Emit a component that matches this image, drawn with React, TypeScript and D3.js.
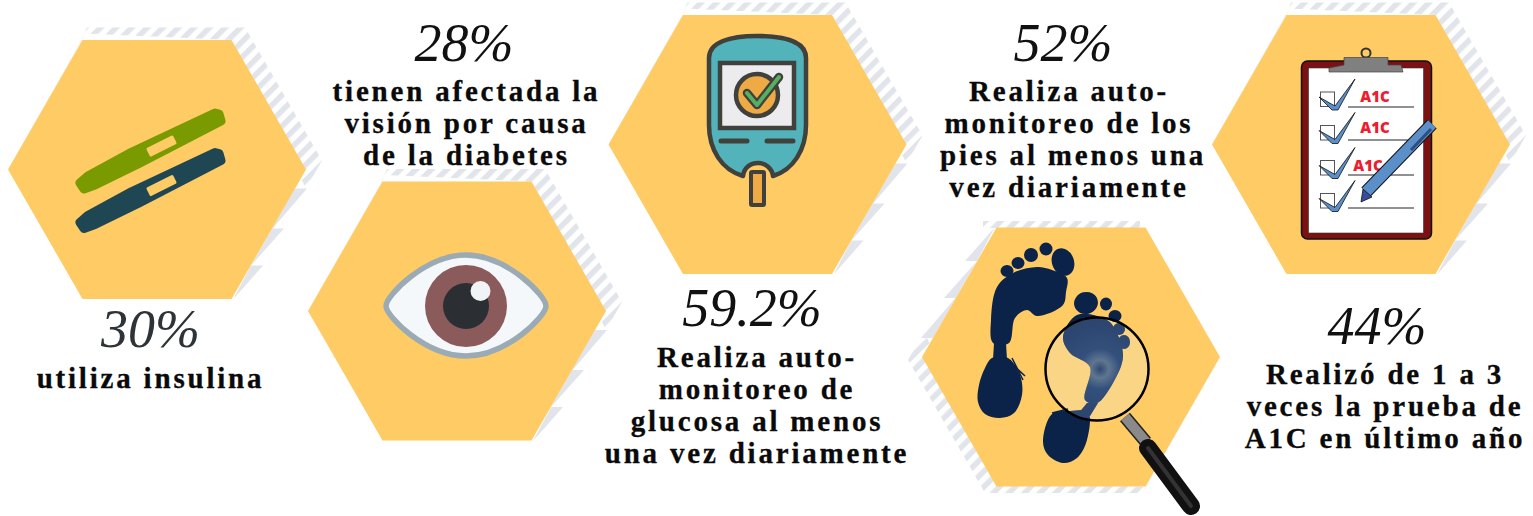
import React from "react";
import * as d3 from "d3";

const percents = ["30%", "28%", "59.2%", "52%", "44%"];
const percentColors = ["#2e3338", "#111", "#111", "#111", "#111"];
const percentX = [150.5, 464, 752, 1063, 1377];
const percentY = [347, 61, 326, 61, 344];
const captions = [
  ["utiliza insulina"],
  ["tienen afectada la", "visión por causa", "de la diabetes"],
  ["Realiza auto-", "monitoreo de", "glucosa al menos", "una vez diariamente"],
  ["Realiza auto-", "monitoreo de los", "pies al menos una", "vez diariamente"],
  ["Realizó de 1 a 3", "veces la prueba de", "A1C en último año"],
];
const captionX = [150.5, 466.5, 757, 1069, 1385];
const captionY = [388, 101, 367, 101, 384];
const captionNudge = [[0], [0, 0, 0], [0, 0, 0, 0], [0, 0, 4, 0], [0, 0, 0]];
const hexCx = [157, 457, 757.5, 1071, 1361];
const hexCy = [169.5, 311, 144.5, 357, 144.5];
const shadowRot = [0, 0, 0, 180, 0];

const R = 149;
const HALF = 129.5;
const HEX = "#fecb65";
const STRIPE = "#e1e4ea";
const INK = "#40403c";
const NAVY = "#0c2349";

const hexPoints: [number, number][] = [[-R, 0], [-R / 2, -HALF], [R / 2, -HALF], [R, 0], [R / 2, HALF], [-R / 2, HALF]];
const shadowDense: [number, number][] = [[-73, -136], [-70, -142], [88, -142], [165, -9], [149, 19], [75, -129.5]];
const sliver: [number, number][] = [[-75, -130], [-70, -138], [-146, -5], [-149, 0]];
const wedges: [number, number][][] = [
  [[138, 19], [150, 19], [113, 62]],
  [[115, 59], [127, 59], [94, 96]],
  [[94, 96], [106, 96], [76, 130]],
];
const line = d3.line<[number, number]>().curve(d3.curveLinearClosed);
const smooth = d3.line<[number, number]>().curve(d3.curveCatmullRomClosed.alpha(0.5));

const penShape: [number, number][] = [[215, 113], [219, 114], [221, 121], [138, 164], [95, 185], [84, 189], [80, 183], [88, 176], [132, 152]];
const penWindow: [number, number][] = [[148, 149], [172, 137], [175, 143], [151, 155]];
const penOffsets = [0, 39.5];
const penColors = ["#7a9a01", "#1f4753"];

const toes1: [number, number, number, number, number][] = [[1063, 262, 11, 14, -20], [1046, 249, 6.5, 6.5, 0], [1031, 255, 7, 7, 0], [1018, 263, 6.5, 6, 0], [1007, 271, 6.5, 6, 0]];
const ball1: [number, number][] = [[1037, 267], [1052, 270], [1067, 278], [1066, 292], [1063, 305], [1037, 316], [1027, 310], [1015, 318], [1009, 343], [993, 343], [991, 320], [997, 287], [1013, 273]];
const heel1: [number, number][] = [[992, 358], [1008, 358], [1020, 375], [1022, 395], [1014, 413], [1000, 418], [985, 414], [978, 402], [979, 385], [985, 368]];
const toes2: [number, number, number, number, number][] = [[1086, 303, 12, 11, -15], [1106, 304, 6, 6.5, 0], [1115, 316, 6.5, 6, 0]];
const toes2Lens: [number, number, number, number, number][] = [[1119, 329, 6, 6, 0], [1124, 342, 6, 7, 0]];
const ball2: [number, number][] = [[1063, 337], [1070, 353], [1090, 367], [1085, 400], [1097, 403], [1113, 383], [1123, 357], [1117, 333], [1107, 320], [1077, 315]];
const heel2: [number, number][] = [[1052, 414], [1070, 411], [1088, 412], [1087, 440], [1077, 458], [1063, 463], [1048, 455], [1043, 442]];

const rowY = [92, 125.5, 160.5, 193.5];
const lineY = [107, 140, 175, 208];
const a1cX = [1375, 1375, 1368];
const a1cY = [102, 133, 171];
const tick: [number, number][] = [[-2, 5], [14, 14], [34, -13], [17, 18], [11, 18]];

const Feet = ({ fill }: { fill: string }) => (
  <g fill={fill}>
    {[...toes1, ...toes2, ...toes2Lens].map(([x, y, a, b, r], i) => (
      <ellipse key={i} cx={x} cy={y} rx={a} ry={b} transform={`rotate(${r} ${x} ${y})`} />
    ))}
    {[ball1, heel1, ball2, heel2].map((p, i) => <path key={i} d={smooth(p) ?? ""} />)}
    <path d="M994 343 L1006 343 L1007 360 L993 360Z M1087 403 L1098 403 L1090 416 L1078 414Z" />
    <path d="M1010 362 L1025 376 M1012 358 L1023 380 M1052 413 L1068 409" stroke={fill} strokeWidth={1.5} />
  </g>
);

export default function App() {
  return (
    <svg width={1533} height={516} style={{ position: "absolute", left: 0, top: 0 }}>
      <defs>
        <pattern id="st" width={11} height={11} patternUnits="userSpaceOnUse" patternTransform="rotate(45)">
          <rect width={5.6} height={11} fill={STRIPE} />
        </pattern>
        <radialGradient id="lensFoot" gradientUnits="userSpaceOnUse" cx={1100} cy={369} r={45}>
          <stop offset="0" stopColor="#2e4a72" />
          <stop offset="0.2" stopColor="#5f7690" />
          <stop offset="0.45" stopColor="#33507c" />
          <stop offset="1" stopColor="#2c4670" />
        </radialGradient>
        <clipPath id="lensClip"><circle cx={1097} cy={369} r={51} /></clipPath>
      </defs>

      {hexCx.map((cx, i) => (
        <g key={i} transform={`translate(${cx},${hexCy[i]}) rotate(${shadowRot[i]})`}>
          {shadowRot[i] === 180 ? (
            <>
              <path d={line(shadowDense.map(([x, y]) => [x - 2, y + 6] as [number, number])) ?? ""} fill="url(#st)" />
              <rect x={-69} y={129} width={157} height={7} fill="url(#st)" />
            </>
          ) : (
            <path d={line(shadowDense) ?? ""} fill="url(#st)" />
          )}
          <path d={line(sliver) ?? ""} fill={STRIPE} />
          {wedges.map((w, j) => <path key={j} d={line(w) ?? ""} fill={STRIPE} />)}
        </g>
      ))}
      {hexCx.map((cx, i) => (
        <path key={i} transform={`translate(${cx},${hexCy[i]})`} d={line(hexPoints) ?? ""} fill={HEX} />
      ))}

      {/* insulin pens */}
      {penOffsets.map((dy, i) => (
        <g key={i} transform={`translate(0,${dy})`}>
          <path d={line(penShape) ?? ""} fill={penColors[i]} stroke={penColors[i]} strokeWidth={9} strokeLinejoin="round" />
          <path d={line(penWindow) ?? ""} fill={HEX} stroke={HEX} strokeWidth={3} strokeLinejoin="round" />
        </g>
      ))}

      {/* eye */}
      <path d="M386 306 C386 296 425 255 466 255 C507 255 546 296 546 306 C546 316 507 356 466 356 C425 356 386 316 386 306Z"
        fill="#f4f8fb" stroke="#9aabb5" strokeWidth={5.5} strokeLinejoin="round" />
      <ellipse cx={466} cy={306} rx={41} ry={41} fill="#8b5a5a" />
      <ellipse cx={466} cy={306} rx={23} ry={23} fill="#2b2f33" />
      <circle cx={480.5} cy={291} r={10} fill="#f0f4f6" />

      {/* glucose meter */}
      <path d="M743 176 C722 170 709 150 709 125 L709 58 C709 42 730 36 757 36 C785 36 806 42 806 58 L806 125 C806 150 793 170 773 176 C772 168 765 163 758 163 C750 163 744 168 743 176Z"
        fill="#52b3bb" stroke={INK} strokeWidth={4.5} strokeLinejoin="round" />
      <rect x={720} y={63} width={74} height={65} fill="#ececef" stroke={INK} strokeWidth={4.5} />
      <circle cx={757} cy={95} r={21} fill="#eeaa44" stroke={INK} strokeWidth={4.5} />
      <path d="M747 93 L757 105 L779 77" fill="none" stroke={INK} strokeWidth={8.5} strokeLinecap="round" strokeLinejoin="round" />
      <path d="M747 93 L757 105 L779 77" fill="none" stroke="#55b060" strokeWidth={4} strokeLinecap="round" strokeLinejoin="round" />
      <path d="M721 141 H747 M767 141 H793" stroke={INK} strokeWidth={5} strokeLinecap="round" />
      <rect x={751} y={172} width={13} height={33} rx={1} fill="#eeaa44" stroke={INK} strokeWidth={4} />

      {/* footprints */}
      <Feet fill={NAVY} />
      <circle cx={1097} cy={369} r={51} fill="#f7dc9c" fillOpacity={0.6} />
      <g clipPath="url(#lensClip)"><Feet fill="url(#lensFoot)" /></g>
      <circle cx={1097} cy={369} r={51.5} fill="none" stroke="#000" strokeWidth={2.5} />
      <path d="M1125 417 L1146 442" stroke="#222" strokeWidth={13} />
      <path d="M1125 417 L1146 442" stroke="#8a8a8a" strokeWidth={10} />
      <path d="M1148 448 L1191 506" stroke="#111" strokeWidth={18} strokeLinecap="round" />
      <path d="M1148 448 L1191 506" stroke="#333" strokeWidth={4} strokeLinecap="round" />

      {/* clipboard */}
      <rect x={1301.5} y={61} width={130} height={178} rx={6} fill="#7b1113" stroke="#111" strokeWidth={1.5} />
      <rect x={1308.5} y={68} width={115} height={165} fill="#fff" stroke="#333" strokeWidth={0.6} />
      <circle cx={1366} cy={53} r={4.5} fill="none" stroke="#333" strokeWidth={2} />
      <path d="M1329 72 L1329 68 L1344 65 L1344 57.5 L1388 57.5 L1388 65 L1401 65 L1403 72Z" fill="#808080" stroke="#444" strokeWidth={0.7} />
      {rowY.map((y, i) => (
        <g key={i}>
          <rect x={1320.5} y={y} width={14} height={14.5} fill="#fff" stroke="#555" strokeWidth={1} />
          <path transform={`translate(1321,${y})`} d={line(tick) ?? ""} fill="#5b8fc9" stroke="#111" strokeWidth={0.8} />
          <path d={`M1348 ${lineY[i]} H1414`} stroke="#222" strokeWidth={1} />
        </g>
      ))}
      {a1cX.map((x, i) => (
        <text key={i} x={x} y={a1cY[i]} textAnchor="middle" fontFamily="'Open Sans'" fontWeight={800} fontSize={15} fill="#ee1c2e">A1C</text>
      ))}
      <path d="M1366 192 L1432 124" stroke="#111" strokeWidth={13} />
      <path d="M1366 192 L1432 124" stroke="#5b8fc9" strokeWidth={11} />
      <path d="M1361 202 L1363 189 L1372 197Z" fill="#3a4a9c" stroke="#111" strokeWidth={0.8} />
      <path d="M1411 150 L1431 129" stroke="#2c4f80" strokeWidth={3} />

      {/* text */}
      {percents.map((p, i) => (
        <text key={i} x={percentX[i]} y={percentY[i]} textAnchor="middle" fontFamily="'Liberation Serif'" fontStyle="italic" fontSize={54} fill={percentColors[i]}>{p}</text>
      ))}
      {captions.map((lines, i) => lines.map((l, j) => (
        <text key={`${i}-${j}`} x={captionX[i] + captionNudge[i][j]} y={captionY[i] + j * 32} textAnchor="middle" fontFamily="'Liberation Serif'" fontWeight={700} fontSize={29} letterSpacing={2.8} stroke="#0a0a0a" strokeWidth={0.3} fill="#0a0a0a">{l}</text>
      )))}
    </svg>
  );
}
